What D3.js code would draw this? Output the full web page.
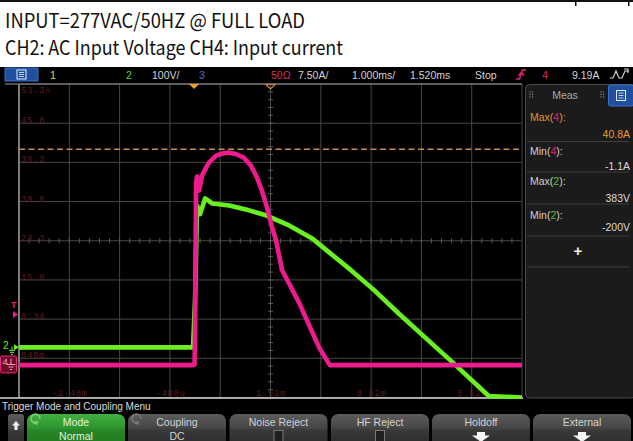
<!DOCTYPE html>
<html><head><meta charset="utf-8">
<script src="https://cdn.jsdelivr.net/npm/d3@7"></script>
<style>html,body{margin:0;padding:0;background:#fff;overflow:hidden}svg{display:block}</style>
</head><body><svg id="c" width="633" height="441"></svg>
<script>
// ---------- data ----------
const titleLines = ["INPUT=277VAC/50HZ @ FULL LOAD", "CH2: AC Input Voltage CH4: Input current"];
const timeTickValues = [-2.48, -0.48, 1.52, 3.52, 5.52];
const timeTickLabels = ["-2.48m", "-480u", "1.52m", "3.52m", "5.52m"];
const currentTickValues = [53.3, 45.8, 38.3, 30.8, 23.3, 15.8, 8.34, 0.84];
const currentTickLabels = ["53.3A", "45.8", "38.3", "30.8", "23.3", "15.8", "8.34", "840m"];
// CH2 voltage (V) vs time (ms)
const voltTime  = [-3.48, -0.02, 0.02, 0.06, 0.12, 0.22, 0.30, 0.36, 0.70, 1.03, 1.43, 1.89, 2.35, 2.68, 3.12, 3.58, 4.08, 4.81, 5.13, 5.47, 5.86, 6.52];
const voltValue = [0, 0, 120, 362, 340, 380, 373, 367, 362, 352, 337, 311, 278, 243, 197, 146, 85, 0, -37, -78, -124, -185];
// CH4 current (A) vs time (ms)
const currTime  = [-3.48, -0.02, 0.01, 0.02, 0.04, 0.06, 0.10, 0.16, 0.24, 0.30, 0.44, 0.56, 0.68, 0.83, 0.99, 1.13, 1.25, 1.35, 1.45, 1.55, 1.63, 1.75, 2.09, 2.49, 2.70, 6.52];
const currValue = [-0.5, -0.5, -0.4, 6.2, 34.3, 35.6, 32.9, 35.8, 37.3, 38.3, 39.6, 40.0, 40.2, 39.9, 39.2, 37.7, 35.4, 32.9, 29.7, 25.9, 23.4, 17.7, 11.4, 2.8, -0.5, -0.5];
const maxCurrentCursor = 40.8;
const triggerLevel = 9.19;
const statusTexts  = ["1", "2", "100V/", "3", "50Ω", "7.50A/", "1.000ms/", "1.520ms", "Stop", "4", "9.19A"];
const statusColors = ["#e4d65c", "#5fd43a", "#d4d4d4", "#4a6cd8", "#d2306a", "#d4d4d4", "#d4d4d4", "#d4d4d4", "#d4d4d4", "#e0207a", "#d4d4d4"];
const measNames  = ["Max", "Min", "Max", "Min"];
const measChans  = ["4", "4", "2", "2"];
const measValues = ["40.8A", "-1.1A", "383V", "-200V"];
const buttonTitles = ["Mode", "Coupling", "Noise Reject", "HF Reject", "Holdoff", "External"];
const buttonValues = ["Normal", "DC", "", "", "", ""];
const buttonKinds  = ["text", "text", "check", "check", "arrow", "arrow"];
const menuTitle = "Trigger Mode and Coupling Menu";

// ---------- setup ----------
const svg = d3.select("#c");
const W = 633, H = 441;
const gx0 = 19, gx1 = 522, gy0 = 84, gy1 = 397.5;
const x  = d3.scaleLinear().domain([-3.48, 6.52]).range([gx0, gx1]);
const yA = d3.scaleLinear().domain([-6.7, 53.3]).range([gy1, gy0]).clamp(true);
const yV = d3.scaleLinear().domain([-128, 672]).range([gy1, gy0]).clamp(true);
const PINK = "#ee1a8e", GREEN = "#6af020";
const SANS = "'Liberation Sans', Arial, sans-serif";
const MONO = "'Liberation Mono', 'DejaVu Sans Mono', monospace";

const defs = svg.append("defs");
function grad(id, stops) {
  const g = defs.append("linearGradient").attr("id", id).attr("x1", 0).attr("y1", 0).attr("x2", 0).attr("y2", 1);
  stops.forEach(s => g.append("stop").attr("offset", s[0]).attr("stop-color", s[1]));
}
grad("gbtn", [["0%", "#5c5c5c"], ["45%", "#474747"], ["55%", "#393939"], ["100%", "#2c2c2c"]]);
grad("gbtnG", [["0%", "#40b040"], ["45%", "#2f962f"], ["55%", "#278627"], ["100%", "#1f7a1f"]]);
defs.append("clipPath").attr("id", "gclip").append("rect")
  .attr("x", gx0).attr("y", gy0).attr("width", gx1 - gx0).attr("height", gy1 - gy0 + 1.5);

// ---------- header ----------
svg.append("rect").attr("width", W).attr("height", 67).attr("fill", "#fff");
svg.append("rect").attr("x", 0).attr("y", 0).attr("width", W).attr("height", 2).attr("fill", "#111");
[575, 628].forEach(v => svg.append("rect").attr("x", v).attr("y", 0).attr("width", 1.5).attr("height", 6).attr("fill", "#111"));
const tl = [[28, 300], [55, 338]];
titleLines.forEach((t, i) => svg.append("text").attr("x", 5).attr("y", tl[i][0])
  .attr("font-family", "'Noto Sans CJK TC','Noto Sans',sans-serif").attr("font-size", 20)
  .attr("textLength", tl[i][1]).attr("lengthAdjust", "spacingAndGlyphs")
  .attr("fill", "#111").text(t));

// ---------- scope background ----------
svg.append("rect").attr("x", 0).attr("y", 67).attr("width", W).attr("height", H - 67).attr("fill", "#000");

// status bar
svg.append("rect").attr("x", 5).attr("y", 68).attr("width", 33).attr("height", 13).attr("fill", "#1f4f9e").attr("stroke", "#3f72c4");
svg.append("rect").attr("x", 17).attr("y", 70).attr("width", 9).attr("height", 9).attr("fill", "none").attr("stroke", "#e8eefa").attr("stroke-width", 1);
[72.5, 74.5, 76.5].forEach(v => svg.append("line").attr("x1", 19).attr("x2", 24).attr("y1", v).attr("y2", v).attr("stroke", "#e8eefa").attr("stroke-width", 0.8));
const statusX = [50, 126, 152, 199, 271, 298, 352, 410, 475, 542, 572];
statusTexts.forEach((t, i) => svg.append("text").attr("x", statusX[i]).attr("y", 78.5)
  .attr("font-family", SANS).attr("font-size", 10.5).attr("fill", statusColors[i]).text(t));
// trigger edge icon
svg.append("path").attr("d", "M516,79 L519.5,79 L522.5,70 L526,70 M518.5,75.5 L521.5,72.5 L524,75.5")
  .attr("fill", "none").attr("stroke", "#e0207a").attr("stroke-width", 1.6);
// acquisition icon
svg.append("path").attr("d", "M610,78 L613,78 L616,71 L619,78 L622,78 L625,71 L629,71 M624,69 L628,69 L628,73")
  .attr("fill", "none").attr("stroke", "#d8d8d8").attr("stroke-width", 1.1);

// ---------- grid ----------
const grid = svg.append("g");
d3.range(11).forEach(i => {
  const xv = x(-3.48 + i);
  grid.append("line").attr("x1", xv).attr("x2", xv).attr("y1", gy0).attr("y2", gy1).attr("stroke", "#474747").attr("stroke-width", 1);
});
d3.range(9).forEach(i => {
  const yv = yA(53.3 - 7.5 * i);
  grid.append("line").attr("x1", gx0).attr("x2", gx1).attr("y1", yv).attr("y2", yv).attr("stroke", "#474747").attr("stroke-width", 1);
});
// minor ticks on center lines
const cy = yA(23.3), cx = x(1.52);
d3.range(0, 50).forEach(i => {
  const xv = x(-3.48 + i * 0.2);
  grid.append("line").attr("x1", xv).attr("x2", xv).attr("y1", cy - 2.5).attr("y2", cy + 2.5).attr("stroke", "#5a5a5a");
});
d3.range(0, 40).forEach(i => {
  const yv = yA(-6.7 + i * 1.5);
  grid.append("line").attr("x1", cx - 2.5).attr("x2", cx + 2.5).attr("y1", yv).attr("y2", yv).attr("stroke", "#5a5a5a");
});
// borders
grid.append("line").attr("x1", 5).attr("x2", gx1).attr("y1", gy0).attr("y2", gy0).attr("stroke", "#9a9a9a").attr("stroke-width", 1.2);
grid.append("line").attr("x1", gx0).attr("x2", gx0).attr("y1", gy0).attr("y2", gy1).attr("stroke", "#7c7c7c").attr("stroke-width", 2);
grid.append("line").attr("x1", 0).attr("x2", gx1 + 1).attr("y1", gy1 + 0.5).attr("y2", gy1 + 0.5).attr("stroke", "#d8d8d8").attr("stroke-width", 1.3);

// axis labels (inside the grid, maroon)
const xAxis = d3.axisBottom(x).tickValues(timeTickValues).tickFormat((d, i) => timeTickLabels[i]).tickSize(0);
const gxa = svg.append("g").attr("transform", `translate(0,${gy1})`).call(xAxis);
gxa.select(".domain").remove();
gxa.selectAll("text").attr("y", -1.5).attr("dy", 0).attr("font-family", MONO).attr("font-size", 9)
  .attr("fill", "#5e1b1b").attr("letter-spacing", 0.6);

const yAxis = d3.axisRight(yA).tickValues(currentTickValues).tickFormat((d, i) => currentTickLabels[i]).tickSize(0);
const gya = svg.append("g").attr("transform", `translate(${gx0},0)`).call(yAxis);
gya.select(".domain").remove();
gya.selectAll("text").attr("x", 2).attr("dy", (d, i) => i === 0 ? "0.95em" : "-0.05em")
  .attr("text-anchor", "start").attr("font-family", MONO).attr("font-size", 9)
  .attr("fill", "#5e1b1b").attr("letter-spacing", 0.6);

// max cursor (dashed)
svg.append("line").attr("x1", gx0).attr("x2", gx1).attr("y1", yA(maxCurrentCursor)).attr("y2", yA(maxCurrentCursor))
  .attr("stroke", "#c98a52").attr("stroke-width", 1.4).attr("stroke-dasharray", "6,3.5");

// trigger / delay markers
const tx = x(0);
svg.append("path").attr("d", `M${tx - 5},${gy0} L${tx + 5},${gy0} L${tx},${gy0 + 5} Z`).attr("fill", "#f0a030");
svg.append("path").attr("d", `M${cx - 4.5},${gy0 + 0.5} L${cx + 4.5},${gy0 + 0.5} L${cx},${gy0 + 5} Z`).attr("fill", "none").attr("stroke", "#c8864a").attr("stroke-width", 1.2);

// ---------- traces ----------
const traces = svg.append("g").attr("clip-path", "url(#gclip)");
const lineV = d3.line().x((d, i) => x(voltTime[i])).y((d, i) => yV(voltValue[i]));
const lineA = d3.line().x((d, i) => x(currTime[i])).y((d, i) => yA(currValue[i]));
traces.append("path").attr("d", lineV(voltValue)).attr("fill", "none").attr("stroke", GREEN)
  .attr("stroke-width", 4.6).attr("stroke-linejoin", "round");
traces.append("path").attr("d", lineA(currValue)).attr("fill", "none").attr("stroke", PINK)
  .attr("stroke-width", 4.6).attr("stroke-linejoin", "round");

// ---------- left channel markers ----------
const ty = yA(triggerLevel);
svg.append("text").attr("x", 11).attr("y", ty - 6.5).attr("font-family", SANS).attr("font-size", 9).attr("font-weight", "bold").attr("fill", PINK).text("T");
svg.append("path").attr("d", `M13,${ty - 3.5} L18,${ty} L13,${ty + 3.5} Z`).attr("fill", PINK);
const v0 = yV(0);
svg.append("text").attr("x", 3).attr("y", v0 + 2).attr("font-family", SANS).attr("font-size", 10).attr("fill", GREEN).text("2");
svg.append("path").attr("d", `M12,${v0 - 1} L12,${v0 + 3} M9,${v0 + 3} L15,${v0 + 3} M10,${v0 + 5} L14,${v0 + 5} M11,${v0 + 7} L13,${v0 + 7}`).attr("stroke", GREEN).attr("stroke-width", 1);
svg.append("path").attr("d", `M14,${v0 - 3} L19,${v0} L14,${v0 + 3} Z`).attr("fill", GREEN);
const a0 = yA(0);
svg.append("rect").attr("x", 0.5).attr("y", a0 - 6.5).attr("width", 16).attr("height", 17).attr("rx", 1.5).attr("fill", "#6a0d28").attr("stroke", "#e8287e").attr("stroke-width", 1);
svg.append("text").attr("x", 2.5).attr("y", a0 + 2.5).attr("font-family", SANS).attr("font-size", 9.5).attr("fill", "#ff9cc8").text("4");
svg.append("path").attr("d", `M11,${a0 - 4} L11,${a0 + 2} M7,${a0 + 2} L15,${a0 + 2} M8.5,${a0 + 4.5} L13.5,${a0 + 4.5} M10,${a0 + 7} L12,${a0 + 7}`).attr("stroke", "#ff9cc8").attr("stroke-width", 1);

// ---------- measurement panel ----------
const mp = svg.append("g");
mp.append("rect").attr("x", 525.5).attr("y", 84.5).attr("width", 110).attr("height", gy1 - 84).attr("rx", 4)
  .attr("fill", "#1b1b1b").attr("stroke", "#4c4c4c");
mp.append("rect").attr("x", 608.5).attr("y", 85).attr("width", 25).attr("height", 21).attr("rx", 2).attr("fill", "#1f4f9e").attr("stroke", "#3f72c4");
mp.append("rect").attr("x", 616.5).attr("y", 90.5).attr("width", 9).attr("height", 10).attr("fill", "none").attr("stroke", "#e8eefa");
[93, 95.5, 98].forEach(v => mp.append("line").attr("x1", 618.5).attr("x2", 623.5).attr("y1", v).attr("y2", v).attr("stroke", "#e8eefa").attr("stroke-width", 0.8));
[530, 601].forEach(gx => [0, 1].forEach(c => [0, 1, 2].forEach(r =>
  mp.append("circle").attr("cx", gx + c * 2.5).attr("cy", 92 + r * 2.5).attr("r", 0.7).attr("fill", "#888"))));
mp.append("text").attr("x", 565).attr("y", 99).attr("text-anchor", "middle").attr("font-family", SANS).attr("font-size", 10.5).attr("fill", "#a8a8a8").text("Meas");
const labelY = [121, 154.5, 184.5, 219];
const valueY = [138, 170, 201.5, 230.5];
measNames.forEach((n, i) => {
  const isFirst = i === 0;
  const lab = mp.append("text").attr("x", 530).attr("y", labelY[i]).attr("font-family", SANS).attr("font-size", 10.5)
    .attr("fill", isFirst ? "#e2902e" : "#cfcfcf");
  lab.append("tspan").text(n + "(");
  lab.append("tspan").attr("fill", measChans[i] === "4" ? "#e0207a" : "#55c830").text(measChans[i]);
  lab.append("tspan").text("):");
  mp.append("text").attr("x", 630).attr("y", valueY[i]).attr("text-anchor", "end").attr("font-family", SANS).attr("font-size", 10.5)
    .attr("fill", isFirst ? "#ec9a34" : "#dadada").text(measValues[i]);
});
[141.5, 172, 204, 236, 267].forEach(v => mp.append("line").attr("x1", 527).attr("x2", 629).attr("y1", v).attr("y2", v).attr("stroke", "#3e3e3e"));
mp.append("text").attr("x", 578).attr("y", 255.5).attr("text-anchor", "middle").attr("font-family", SANS).attr("font-size", 15).attr("font-weight", "bold").attr("fill", "#f0f0f0").text("+");

// ---------- bottom menu ----------
svg.append("text").attr("x", 2).attr("y", 409.5).attr("font-family", SANS).attr("font-size", 10).attr("fill", "#dcdcdc").text(menuTitle);
function topRounded(x0, y0, w, h, r) {
  return `M${x0},${y0 + h} L${x0},${y0 + r} Q${x0},${y0} ${x0 + r},${y0} L${x0 + w - r},${y0} Q${x0 + w},${y0} ${x0 + w},${y0 + r} L${x0 + w},${y0 + h} Z`;
}
svg.append("path").attr("d", topRounded(8, 414, 16, 30, 3)).attr("fill", "url(#gbtn)");
svg.append("path").attr("d", "M16,421 L20,425.5 L17.5,425.5 L17.5,430 L14.5,430 L14.5,425.5 L12,425.5 Z").attr("fill", "#f2f2f2");
const bx = [27, 128, 229.5, 331, 432, 533];
buttonTitles.forEach((t, i) => {
  const b = bx[i], w = 98, c = b + w / 2;
  svg.append("path").attr("d", topRounded(b, 414, w, 30, 8)).attr("fill", i === 0 ? "url(#gbtnG)" : "url(#gbtn)");
  const col = i === 0 ? "#e0f4e0" : "#d2d2d2";
  svg.append("text").attr("x", c).attr("y", 425.5).attr("text-anchor", "middle").attr("font-family", SANS).attr("font-size", 10.5).attr("fill", col).text(t);
  if (buttonKinds[i] === "text") {
    svg.append("text").attr("x", c).attr("y", 440).attr("text-anchor", "middle").attr("font-family", SANS).attr("font-size", 10.5).attr("fill", col).text(buttonValues[i]);
    svg.append("path").attr("d", `M${b + 13},419 A4.5,4.5 0 1 0 ${b + 9.5},423`).attr("fill", "none")
      .attr("stroke", i === 0 ? "#7ccd7c" : "#7a7a7a").attr("stroke-width", 1.6);
    svg.append("path").attr("d", `M${b + 6.5},421.5 L${b + 10},425.5 L${b + 11.5},421 Z`).attr("fill", i === 0 ? "#7ccd7c" : "#7a7a7a");
  } else if (buttonKinds[i] === "check") {
    svg.append("rect").attr("x", c - 4.5).attr("y", 430.5).attr("width", 9).attr("height", 12).attr("fill", "#202020").attr("stroke", "#7a7a7a");
  } else {
    svg.append("path").attr("d", `M${c - 4},432 L${c + 4},432 L${c + 4},435.5 L${c + 9},435.5 L${c},442 L${c - 9},435.5 L${c - 4},435.5 Z`).attr("fill", "#f4f4f4");
  }
});
</script></body></html>
